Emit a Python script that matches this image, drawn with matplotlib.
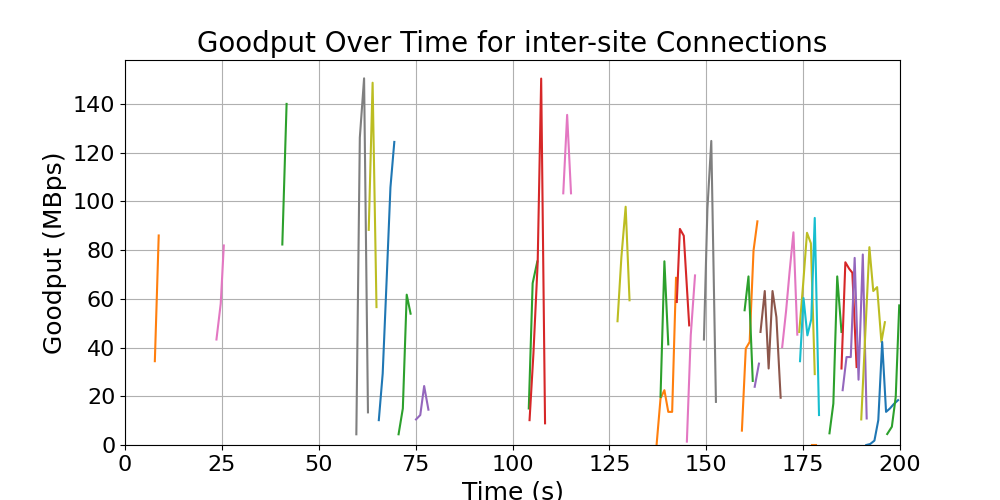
import matplotlib
matplotlib.use("Agg")
import matplotlib.pyplot as plt

# one entry per connection: sample times (s), goodput (MBps), colour
conn_times = [
    [7.7, 8.7],
    [23.6, 24.7, 25.5],
    [40.6, 41.7],
    [59.7, 60.6, 61.7, 62.7],
    [62.9, 63.9, 64.9],
    [65.5, 66.5, 67.5, 68.5, 69.5],
    [70.6, 71.7, 72.7, 73.7],
    [75.1, 76.2, 77.2, 78.3],
    [104.2, 105.2, 106.4],
    [104.4, 105.4, 106.5, 107.4, 108.4],
    [113.1, 114.1, 115.1],
    [127.1, 128.1, 129.2, 130.2],
    [137.2, 138.2, 139.2, 140.2, 141.2, 142.2],
    [138.2, 139.2, 140.2],
    [142.4, 143.2, 144.2, 145.6],
    [145.0, 146.0, 147.1],
    [149.4, 150.3, 151.3, 152.5],
    [159.2, 160.2, 161.2, 162.2, 163.2],
    [159.9, 160.9, 162.0],
    [162.5, 163.6],
    [164.0, 165.1, 166.1, 167.1, 168.1, 169.2],
    [169.6, 170.6, 171.5, 172.5, 173.5],
    [174.0, 175.0, 176.0, 177.0, 178.0],
    [174.2, 175.1, 176.1, 177.1, 178.0, 179.1],
    [177.3, 178.3],
    [181.8, 182.8, 183.8, 184.9],
    [184.9, 185.9, 186.9, 187.7, 188.8],
    [185.2, 186.2, 187.3, 188.3, 189.3, 190.4, 191.4],
    [190.0, 192.1, 193.1, 194.1, 195.2, 196.1],
    [191.3, 192.3, 193.4, 194.4, 195.4, 196.4, 197.4, 198.4, 199.5],
    [196.7, 197.9, 198.9, 199.8],
]
conn_goodput = [
    [34.4, 86.0],
    [43.3, 58.0, 81.9],
    [82.3, 140.0],
    [4.4, 126.2, 150.5, 13.4],
    [88.3, 148.7, 56.6],
    [10.2, 29.3, 67.0, 105.7, 124.4],
    [4.4, 15.0, 61.7, 53.9],
    [10.5, 12.3, 24.2, 14.5],
    [15.0, 66.4, 75.3],
    [10.2, 37.5, 75.0, 150.4, 8.9],
    [103.3, 135.5, 103.3],
    [50.8, 77.1, 97.8, 59.4],
    [0.4, 19.1, 22.5, 13.6, 13.6, 68.6],
    [19.8, 75.4, 41.3],
    [58.7, 88.7, 85.9, 49.1],
    [1.4, 45.0, 69.6],
    [43.3, 97.0, 124.8, 17.7],
    [5.9, 39.6, 42.3, 79.8, 91.8],
    [55.3, 69.2, 26.3],
    [23.9, 33.4],
    [46.4, 63.2, 31.4, 63.2, 52.5, 19.4],
    [40.2, 55.0, 71.0, 87.3, 45.3],
    [46.4, 66.0, 87.1, 82.8, 29.1],
    [34.4, 60.3, 45.0, 51.6, 93.2, 12.3],
    [0.0, 0.0],
    [4.8, 17.0, 69.2, 46.4],
    [31.4, 75.0, 72.3, 70.7, 32.0],
    [22.5, 36.1, 36.1, 76.8, 26.8, 78.2, 10.9],
    [10.5, 81.2, 63.2, 64.8, 42.3, 50.4],
    [0.0, 0.4, 1.8, 10.2, 42.3, 13.6, 15.0, 16.8, 18.4],
    [4.5, 7.5, 19.8, 57.3],
]
conn_color = [
    "C1", "C6", "C2", "C7", "C8", "C0", "C2", "C4",
    "C2", "C3", "C6", "C8", "C1", "C2", "C3", "C6", "C7",
    "C1", "C2", "C4", "C5", "C6", "C8", "C9", "C1",
    "C2", "C3", "C4", "C8", "C0", "C2",
]

fig, ax = plt.subplots(figsize=(10, 5), dpi=100)
for t, g, c in zip(conn_times, conn_goodput, conn_color):
    ax.plot(t, g, color=c)

ax.set_xlim(0, 200)
ax.set_ylim(bottom=0)
ax.grid(True)
ax.set_title("Goodput Over Time for inter-site Connections", fontsize=20)
ax.set_xlabel("Time (s)", fontsize=18)
ax.set_ylabel("Goodput (MBps)", fontsize=18)
ax.tick_params(labelsize=16)

fig.savefig("out.png")
